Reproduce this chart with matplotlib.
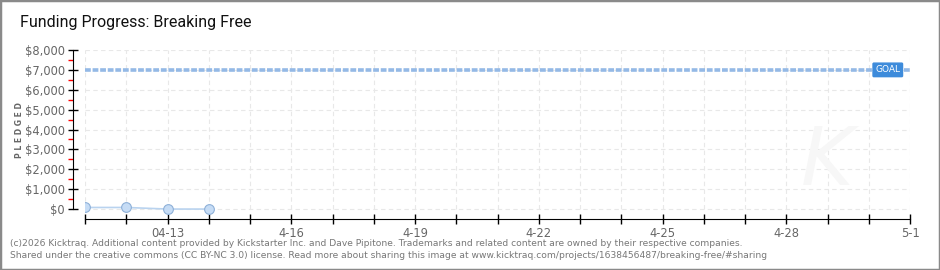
import matplotlib.pyplot as plt
from matplotlib.patches import Rectangle
import numpy as np

# datos del grafico
dias = ["4-11", "4-12", "04-13", "4-14", "4-15", "4-16", "4-17", "4-18", "4-19", "4-20",
        "4-21", "4-22", "4-23", "4-24", "4-25", "4-26", "4-27", "4-28", "4-29", "4-30", "5-1"]
etiquetas_x = ["04-13", "4-16", "4-19", "4-22", "4-25", "4-28", "5-1"]
dia_datos = [0, 1, 2, 3]
recaudado = [80, 80, 0, 0]
meta = 7000
niveles_y = [0, 1000, 2000, 3000, 4000, 5000, 6000, 7000, 8000]

plt.rcParams['font.family'] = ['DejaVu Sans']

fig = plt.figure(figsize=(9.4, 2.7), dpi=100)
fig.patch.set_facecolor("white")
fig.patches.append(Rectangle((0, 0), 1, 1, transform=fig.transFigure, fill=False,
                             edgecolor="#8a8a8a", linewidth=2.5))

ax = fig.add_axes([85/940, 1-219/270, (910-85)/940, (219-50)/270])
x = np.arange(len(dias))
ax.set_xlim(x[0], x[-1])
ax.set_ylim(-500, 8000)

# rejilla discontinua
ax.vlines(x, 0, niveles_y[-1], colors="#e8e8e8", linestyles=(0, (4, 3)), linewidth=0.8, zorder=0)
ax.hlines(niveles_y, x[0], x[-1], colors="#e8e8e8", linestyles=(0, (4, 3)), linewidth=0.8, zorder=0)

# marca de agua
ax.text(18.0, 2300, "K", fontsize=58, fontstyle="italic", color="#f7f7f7",
        ha="center", va="center", zorder=0)

# linea de meta
ax.axhline(meta, color="#94b9e6", linewidth=2.6, linestyle=(0, (1.6, 0.5)), zorder=2)
ax.annotate("GOAL", xy=(x[-1], meta), xytext=(-7, 0), textcoords="offset points",
            ha="right", va="center", fontsize=6.5, color="white", zorder=4,
            bbox=dict(boxstyle="round,pad=0.25,rounding_size=0.1", fc="#3d8bdb", ec="#3d8bdb"))

ax.plot(dia_datos, recaudado, color="#b9d3ef", linewidth=1.2, marker="o", markersize=7,
        markerfacecolor="#c6dcf5", markeredgecolor="#8eb0d8", markeredgewidth=0.8, zorder=3)

for s in ["top", "right"]:
    ax.spines[s].set_visible(False)
ax.spines["left"].set_position(("outward", 9))
ax.spines["left"].set_bounds(0, 8000)
ax.spines["bottom"].set_bounds(x[0], x[-1])

ax.set_yticks(niveles_y)
ax.set_yticklabels(["${:,}".format(v) for v in niveles_y])
ax.set_yticks(np.arange(500, 8000, 1000), minor=True)
ax.tick_params(axis="y", which="major", direction="inout", length=7, width=1,
               labelsize=8.3, labelcolor="#666666", pad=2)
ax.tick_params(axis="y", which="minor", direction="out", length=3.5, width=1, color="red")

ax.set_xticks(x)
ax.set_xticklabels([d if d in etiquetas_x else "" for d in dias])
ax.tick_params(axis="x", direction="inout", length=7, width=1, labelsize=8.3,
               labelcolor="#666666", pad=2)

fig.text(20/940, 1-130/270, "P L E D G E D", rotation=90, fontsize=5.5, color="#666666",
         ha="center", va="center", fontweight="bold")

fig.text(20/940, 1-22/270, "Funding Progress: Breaking Free", fontsize=11.5, color="#111111",
         ha="left", va="center", family=["Roboto", "DejaVu Sans"])

fig.text(10/940, 1-243/270, "(c)2026 Kicktraq. Additional content provided by Kickstarter Inc. and Dave Pipitone. "
         "Trademarks and related content are owned by their respective companies.",
         fontsize=6.6, color="#777777", ha="left", va="center")
fig.text(10/940, 1-256/270, "Shared under the creative commons (CC BY-NC 3.0) license. Read more about sharing "
         "this image at www.kicktraq.com/projects/1638456487/breaking-free/#sharing",
         fontsize=6.6, color="#777777", ha="left", va="center")

plt.savefig("out.png", dpi=100)
plt.close()
